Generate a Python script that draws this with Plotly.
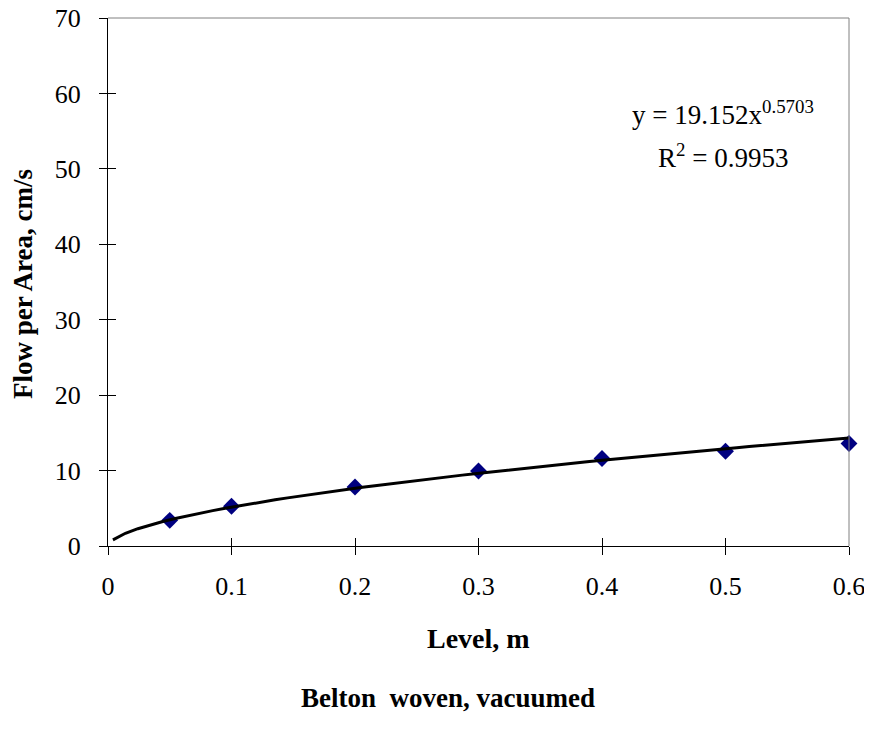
import numpy as np
import plotly.graph_objects as go

# Measured data
level_m = [0.05, 0.1, 0.2, 0.3, 0.4, 0.5, 0.6]
flow_per_area = [3.40, 5.26, 7.83, 9.95, 11.6, 12.56, 13.58]

# Power trendline as shown on the chart: y = a * x^b
trend_a = 19.152
trend_b = 0.5703
r_squared = 0.9953
trend_x_start = 0.004
trend_x_end = 0.6

x_ticks = [0, 0.1, 0.2, 0.3, 0.4, 0.5, 0.6]
y_ticks = [0, 10, 20, 30, 40, 50, 60, 70]

FONT = "Liberation Serif, Times New Roman, serif"

trend_x = np.linspace(trend_x_start, trend_x_end, 60)
trend_y = trend_a * trend_x ** trend_b

fig = go.Figure()
fig.add_trace(go.Scatter(
    x=level_m, y=flow_per_area, mode="markers",
    marker=dict(symbol="diamond", size=13, color="#000080", line=dict(width=0)),
    showlegend=False, cliponaxis=False,
))
fig.add_trace(go.Scatter(
    x=trend_x, y=trend_y, mode="lines",
    line=dict(color="black", width=3),
    showlegend=False,
))
# empty trace to create overlay axes for inward ticks
fig.add_trace(go.Scatter(x=[], y=[], xaxis="x2", yaxis="y2", showlegend=False))

OFF = 8  # page body margin
W, H = 872 - OFF, 742 - OFF
# target screen plot area: left 108, top 18, right 849, bottom 546
ml, mt = 108 - OFF, 18 - OFF
mr = W - (849 - OFF)
mb = H - (546 - OFF)
pw = W - ml - mr
ph = H - mt - mb

def px(sx):
    return (sx - OFF - ml) / pw

def py(sy):
    return (H - mb - (sy - OFF)) / ph

axis_common = dict(showgrid=False, zeroline=False, automargin=False,
                   ticklabeloverflow="allow",
                   tickfont=dict(family=FONT, size=26, color="black"))

def ann(text, sx, sy, size, angle=0):
    return dict(text=text, xref="paper", yref="paper", x=px(sx), y=py(sy),
                xanchor="center", yanchor="middle", showarrow=False, textangle=angle,
                font=dict(family=FONT, size=size, color="black"))

fig.update_layout(
    width=W, height=H,
    margin=dict(l=ml, r=mr, t=mt, b=mb, autoexpand=False),
    paper_bgcolor="white", plot_bgcolor="white",
    xaxis=dict(range=[0, 0.6], tickvals=x_ticks, ticktext=[f"{v:g}" for v in x_ticks],
               ticks="outside", ticklen=8, tickwidth=1, tickcolor="black",
               showline=True, linecolor="black", linewidth=1,
               ticklabelstandoff=9, **axis_common),
    yaxis=dict(range=[0, 70], tickvals=y_ticks, ticktext=[str(v) for v in y_ticks],
               ticks="outside", ticklen=8, tickwidth=1, tickcolor="black",
               showline=True, linecolor="black", linewidth=1,
               ticklabelstandoff=13, **axis_common),
    xaxis2=dict(range=[0, 0.6], tickvals=x_ticks, overlaying="x", side="bottom",
                ticks="inside", ticklen=8, tickwidth=1, tickcolor="black", automargin=False,
                showticklabels=False, showline=False, showgrid=False, zeroline=False),
    yaxis2=dict(range=[0, 70], tickvals=y_ticks, overlaying="y", side="left",
                ticks="inside", ticklen=8, tickwidth=1, tickcolor="black", automargin=False,
                showticklabels=False, showline=False, showgrid=False, zeroline=False),
    shapes=[
        dict(type="line", xref="paper", yref="paper", x0=0, x1=1, y0=1, y1=1,
             line=dict(color="#808080", width=1)),
        dict(type="line", xref="paper", yref="paper", x0=1, x1=1, y0=0, y1=1,
             line=dict(color="#808080", width=1)),
    ],
    annotations=[
        ann(f"y = {trend_a}x<sup>{trend_b}</sup>", 723, 113, 27),
        ann(f"R<sup>2</sup> = {r_squared}", 723, 156, 27),
        ann("<b>Level, m</b>", 478, 638, 28),
        ann("<b>Flow per Area, cm/s</b>", 23, 284, 27, -90),
        ann("<b>Belton  woven, vacuumed</b>", 448, 698, 27),
    ],
)

fig.write_html("out.html")
